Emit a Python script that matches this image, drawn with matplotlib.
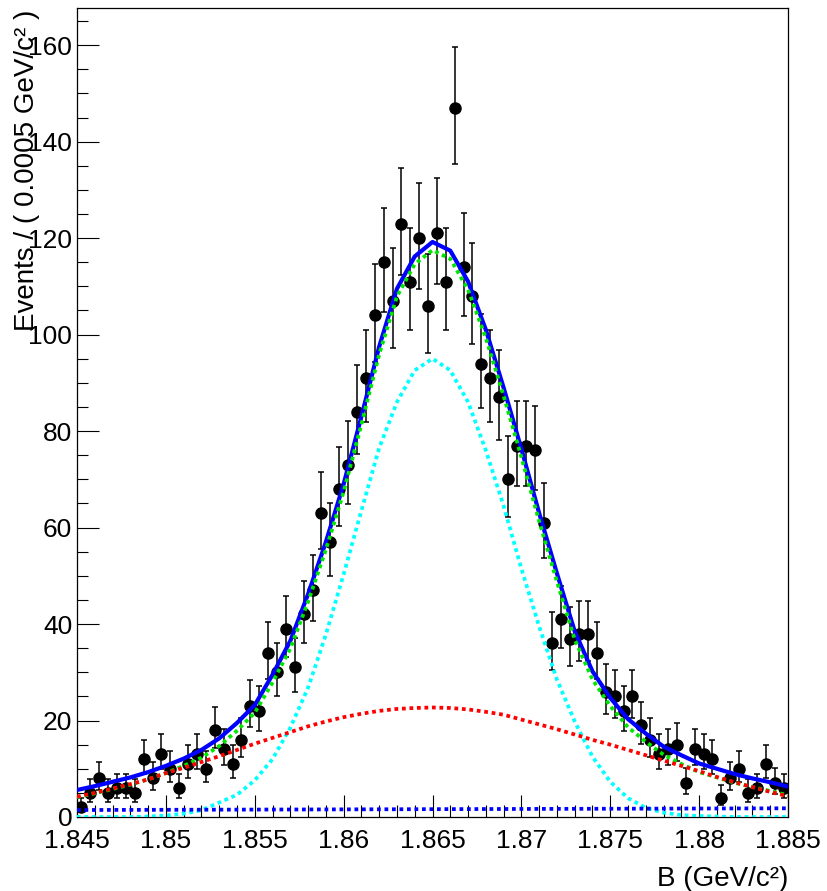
import numpy as np
import matplotlib
matplotlib.use('Agg')
import matplotlib.pyplot as plt
from matplotlib.ticker import MultipleLocator, FuncFormatter

plt.rcParams['font.family'] = ['Liberation Sans', 'DejaVu Sans']

# data: 80 bins of 0.0005 GeV/c^2 between 1.845 and 1.885
bin_lo = 1.845
bin_width = 0.0005
counts = [2, 5, 8, 5, 6, 6, 5, 12, 8, 13,
          10, 6, 11, 13, 10, 18, 14, 11, 16, 23,
          22, 34, 30, 39, 31, 42, 47, 63, 57, 68,
          73, 84, 91, 104, 115, 107, 123, 111, 120, 106,
          121, 111, 147, 114, 108, 94, 91, 87, 70, 77,
          77, 76, 61, 36, 41, 37, 38, 38, 34, 26,
          25, 22, 25, 19, 16, 13, 14, 15, 7, 14,
          13, 12, 4, 8, 10, 5, 6, 11, 7, 6]

# fit curves every 0.001 GeV/c^2
curve_x = np.linspace(1.845, 1.885, 41)
total = [5.6, 6.4, 7.3, 8.2, 9.3, 10.6, 12.1, 13.9, 16.3, 19.5,
         23.2, 29.5, 36.5, 46.2, 57.0, 69.0, 83.0, 97.5, 109.5, 116.2,
         119.2, 117.4, 111.0, 101.0, 89.0, 76.3, 63.0, 50.5, 38.5, 30.2,
         24.7, 20.3, 17.3, 14.6, 12.8, 11.1, 10.0, 8.9, 8.0, 7.2, 6.3]
signal = [4.1, 4.9, 5.8, 6.7, 7.8, 9.1, 10.6, 12.3, 14.7, 17.9,
          21.6, 27.9, 34.9, 44.6, 55.4, 67.4, 81.4, 95.9, 107.9, 114.6,
          117.5, 115.7, 109.3, 99.3, 87.3, 74.6, 61.3, 48.8, 36.8, 28.5,
          23.0, 18.6, 15.6, 12.9, 11.0, 9.3, 8.2, 7.1, 6.2, 5.4, 4.5]
narrow = [0, 0, 0, 0, 0.1, 0.3, 0.7, 1.4, 3.0, 4.6,
          7.6, 12.0, 18.5, 26.8, 37.8, 50.3, 63.5, 76.5, 86.0, 92.6,
          95.0, 92.6, 86.0, 76.0, 64.5, 51.5, 39.5, 28.5, 19.8, 12.5,
          7.3, 3.9, 1.9, 0.9, 0.4, 0.2, 0.1, 0, 0, 0, 0]
broad = [4.2, 5.0, 5.9, 6.8, 7.8, 9.1, 10.2, 11.4, 12.6, 13.9,
         15.2, 16.4, 17.6, 18.8, 19.8, 20.7, 21.4, 22.0, 22.4, 22.6,
         22.7, 22.6, 22.3, 21.8, 21.2, 20.2, 19.2, 18.2, 17.1, 16.0,
         15.0, 13.9, 12.8, 11.7, 10.6, 9.5, 8.3, 7.2, 6.2, 5.2, 4.3]
bkg_x = [1.845, 1.885]
bkg = [1.45, 1.8]

n = np.array(counts, dtype=float)
centers = bin_lo + bin_width * (np.arange(len(n)) + 0.5)
err_lo = np.sqrt(n + 0.25) - 0.5
err_hi = np.sqrt(n + 0.25) + 0.5

fig = plt.figure(figsize=(8.27, 8.91), dpi=100)
ax = fig.add_axes([77/827, 74/891, 711/827, 809/891])

ax.errorbar(centers, n, yerr=[err_lo, err_hi], fmt='o', color='black',
            ms=8, elinewidth=1.1, capsize=2.5, capthick=1.1, zorder=2)

dots = (0, (1, 1))
ax.plot(curve_x, total, color='#0000ff', lw=3, zorder=3)
ax.plot(curve_x, signal, color='#00e600', lw=2.7, ls=dots, zorder=4)
ax.plot(curve_x, narrow, color='#00ffff', lw=2.7, ls=dots, zorder=4)
ax.plot(curve_x, broad, color='#ff0000', lw=2.7, ls=dots, zorder=4)
ax.plot(bkg_x, bkg, color='#0000ff', lw=2.7, ls=dots, zorder=4)

ax.set_xlim(1.845, 1.885)
ax.set_ylim(0, 167.7)

ax.xaxis.set_major_locator(MultipleLocator(0.005))
ax.xaxis.set_minor_locator(MultipleLocator(0.001))
ax.yaxis.set_major_locator(MultipleLocator(20))
ax.yaxis.set_minor_locator(MultipleLocator(5))
ax.xaxis.set_major_formatter(FuncFormatter(lambda v, p: f'{v:.3f}'.rstrip('0').rstrip('.')))

ax.tick_params(which='both', direction='in', top=False, right=False, width=0.8, labelsize=19)
ax.tick_params(axis='x', which='major', length=16, pad=9)
ax.tick_params(axis='x', which='minor', length=9)
ax.tick_params(axis='y', which='major', length=16, pad=3.5)
ax.tick_params(axis='y', which='minor', length=8)
for s in ax.spines.values():
    s.set_linewidth(0.9)

fig.text(27/827, 1 - 10/891, 'Events / ( 0.0005 GeV/c\u00b2 )', rotation=90,
         ha='center', va='top', fontsize=20)
fig.text(788/827, 5/891, 'B (GeV/c\u00b2)', ha='right', va='baseline', fontsize=20)

fig.savefig('out.png', dpi=100)
